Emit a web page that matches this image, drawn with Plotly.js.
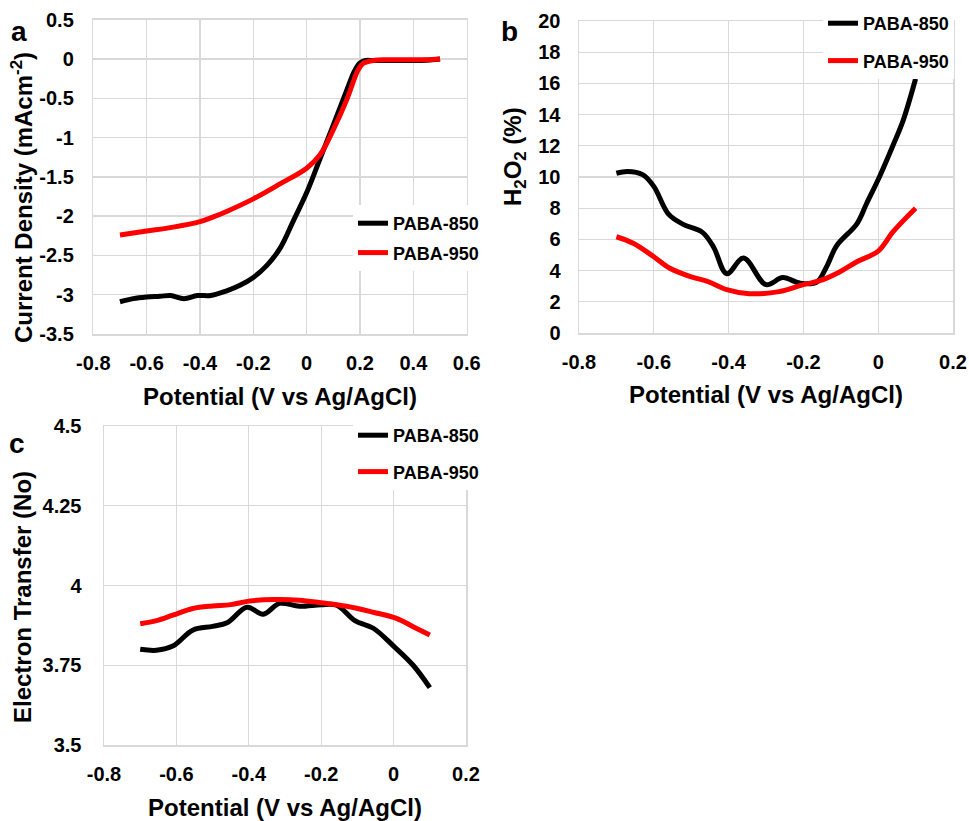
<!DOCTYPE html>
<html>
<head>
<meta charset="utf-8">
<script src="https://cdn.plot.ly/plotly-3.0.1.min.js"></script>
<style>html,body{margin:0;padding:0;background:#fff;}#chart{width:969px;height:821px;}</style>
</head>
<body>
<div id="chart"></div>
<script>
// ---------- Data ----------
const seriesNames = ['PABA-850', 'PABA-950'];

// Panel a: LSV current density
const potA850 = [-0.7,-0.65,-0.6,-0.55,-0.51,-0.46,-0.41,-0.36,-0.3,-0.25,-0.2,-0.15,-0.1,-0.05,0,0.05,0.1,0.15,0.18,0.2,0.22,0.25,0.3,0.35,0.4,0.45,0.5];
const curA850 = [-3.09,-3.05,-3.03,-3.02,-3.01,-3.05,-3.01,-3.01,-2.95,-2.88,-2.78,-2.63,-2.41,-2.06,-1.70,-1.27,-0.84,-0.4,-0.15,-0.05,-0.02,-0.02,-0.02,-0.02,-0.02,-0.015,0];
const potA950 = [-0.7,-0.6,-0.5,-0.4,-0.35,-0.3,-0.2,-0.1,0,0.05,0.1,0.15,0.19,0.21,0.25,0.3,0.4,0.45,0.5];
const curA950 = [-2.24,-2.19,-2.14,-2.07,-2.01,-1.94,-1.78,-1.59,-1.39,-1.22,-0.9,-0.52,-0.16,-0.06,-0.02,-0.01,-0.01,-0.01,0];

// Panel b: H2O2 yield
const potB850 = [-0.7,-0.67,-0.63,-0.6,-0.56,-0.52,-0.47,-0.44,-0.405,-0.36,-0.3,-0.255,-0.21,-0.165,-0.138,-0.111,-0.057,-0.031,0.005,0.04,0.067,0.1];
const h2o2B850 = [10.24,10.36,10.15,9.4,7.6,6.95,6.45,5.5,3.8,4.8,3.1,3.55,3.2,3.25,4.25,5.6,7.0,8.3,10.1,12.05,13.65,16.3];
const potB950 = [-0.7,-0.655,-0.6,-0.557,-0.5,-0.455,-0.405,-0.345,-0.265,-0.2,-0.156,-0.102,-0.057,0,0.04,0.1];
const h2o2B950 = [6.17,5.75,4.89,4.15,3.6,3.3,2.78,2.52,2.65,3.1,3.35,3.93,4.57,5.25,6.5,8.0];

// Panel c: electron transfer number
const potC850 = [-0.7,-0.655,-0.61,-0.555,-0.5,-0.46,-0.405,-0.36,-0.315,-0.26,-0.2,-0.157,-0.107,-0.056,0,0.054,0.1];
const nC850 = [3.80,3.797,3.81,3.86,3.872,3.883,3.932,3.91,3.944,3.935,3.94,3.938,3.89,3.866,3.81,3.75,3.68];
const potC950 = [-0.7,-0.655,-0.61,-0.555,-0.5,-0.45,-0.4,-0.33,-0.26,-0.2,-0.13,-0.056,0.008,0.054,0.1];
const nC950 = [3.88,3.89,3.907,3.928,3.936,3.94,3.951,3.956,3.954,3.946,3.935,3.916,3.897,3.871,3.845];

// Tick values / labels
const tickAx = [-0.8,-0.6,-0.4,-0.2,0,0.2,0.4,0.6];
const tickAxText = ['-0.8','-0.6','-0.4','-0.2','0','0.2','0.4','0.6'];
const tickAy = [0.5,0,-0.5,-1,-1.5,-2,-2.5,-3,-3.5];
const tickAyText = ['0.5','0','-0.5','-1','-1.5','-2','-2.5','-3','-3.5'];
const tickBCx = [-0.8,-0.6,-0.4,-0.2,0,0.2];
const tickBCxText = ['-0.8','-0.6','-0.4','-0.2','0','0.2'];
const tickBy = [0,2,4,6,8,10,12,14,16,18,20];
const tickByText = ['0','2','4','6','8','10','12','14','16','18','20'];
const tickCy = [3.5,3.75,4,4.25,4.5];
const tickCyText = ['3.5','3.75','4','4.25','4.5'];

// ---------- Styling ----------
const W = 969, H = 821;
const FONT = 'Liberation Sans, Arial, Helvetica, sans-serif';
const colors = ['#000000', '#ff0000'];
const gridC = '#d9d9d9';
const px = v => v / W;
const py = v => 1 - v / H;
const bold = arr => arr.map(s => '<b>' + s + '</b>');

function axis(domain, range, tv, tt, title, standoff, tls) {
  const ax = {
    domain: domain, range: range, tickvals: tv, ticktext: bold(tt),
    showgrid: true, gridcolor: gridC, gridwidth: 1.3,
    showline: true, linecolor: gridC, linewidth: 1.5, mirror: true,
    zeroline: false, ticks: '', ticklabelstandoff: tls,
    tickfont: {family: FONT, size: 20, weight: 'bold', color: '#000'},
    automargin: false, fixedrange: true
  };
  if (title) ax.title = {text: '<b>' + title + '</b>', standoff: standoff, font: {family: FONT, size: 24, weight: 'bold', color: '#000'}};
  return ax;
}

function tr(x, y, i, xa, ya, leg) {
  return {
    x: x, y: y, name: '<b>' + seriesNames[i] + '</b>', type: 'scatter', mode: 'lines',
    line: {color: colors[i], width: 5, shape: 'spline', smoothing: 1},
    xaxis: xa, yaxis: ya, legend: leg, legendgroup: leg + i, showlegend: true
  };
}

const data = [
  tr(potA850, curA850, 0, 'x', 'y', 'legend'),
  tr(potA950, curA950, 1, 'x', 'y', 'legend'),
  tr(potB850, h2o2B850, 0, 'x2', 'y2', 'legend2'),
  tr(potB950, h2o2B950, 1, 'x2', 'y2', 'legend2'),
  tr(potC850, nC850, 0, 'x3', 'y3', 'legend3'),
  tr(potC950, nC950, 1, 'x3', 'y3', 'legend3')
];

const xTitle = 'Potential (V vs Ag/AgCl)';
function leg(x, y, gap) {
  return {x: x, y: y, xanchor: 'left', yanchor: 'top', xref: 'paper', yref: 'paper',
    bgcolor: '#ffffff', borderwidth: 0, traceorder: 'grouped', tracegroupgap: gap,
    font: {family: FONT, size: 18, weight: 'bold', color: '#000'}, itemwidth: 30};
}
function ann(text, x, y, size, angle) {
  return {text: '<b>' + text + '</b>', x: px(x), y: py(y), xref: 'paper', yref: 'paper',
    xanchor: 'center', yanchor: 'middle', showarrow: false, textangle: angle || 0,
    font: {family: FONT, size: size, weight: 'bold', color: '#000'}};
}

const layout = {
  width: W, height: H, margin: {l: 0, r: 0, t: 0, b: 0},
  paper_bgcolor: '#fff', plot_bgcolor: '#fff', showlegend: true,
  xaxis: Object.assign(axis([px(93.3), px(466.7)], [-0.8, 0.6], tickAx, tickAxText, xTitle, 15, 10), {anchor: 'y'}),
  yaxis: Object.assign(axis([py(334), py(19.7)], [-3.5, 0.5], tickAy, tickAyText, null, 0, 14), {anchor: 'x'}),
  xaxis2: Object.assign(axis([px(579), px(953)], [-0.8, 0.2], tickBCx, tickBCxText, xTitle, 14, 10), {anchor: 'y2'}),
  yaxis2: Object.assign(axis([py(333), py(21)], [0, 20], tickBy, tickByText, null, 0, 13), {anchor: 'x2'}),
  xaxis3: Object.assign(axis([px(104), px(466)], [-0.8, 0.2], tickBCx, tickBCxText, xTitle, 21, 10), {anchor: 'y3'}),
  yaxis3: Object.assign(axis([py(745), py(426)], [3.5, 4.5], tickCy, tickCyText, null, 0, 17), {anchor: 'x3'}),
  legend: leg(px(353), py(205), 3),
  legend2: leg(px(823), py(5), 11),
  legend3: leg(px(353), py(417), 10),
  annotations: [
    ann('a', 19, 31, 28), ann('b', 509, 31, 28), ann('c', 17, 443, 28),
    ann('Current Density (mAcm<sup>-2</sup>)', 22, 198, 24, -90),
    ann('H<sub>2</sub>O<sub>2</sub> (%)', 515, 157, 24, -90),
    ann('Electron Transfer (No)', 22, 597, 24, -90)
  ]
};

Plotly.newPlot('chart', data, layout, {displayModeBar: false, staticPlot: true});
</script>
</body>
</html>
